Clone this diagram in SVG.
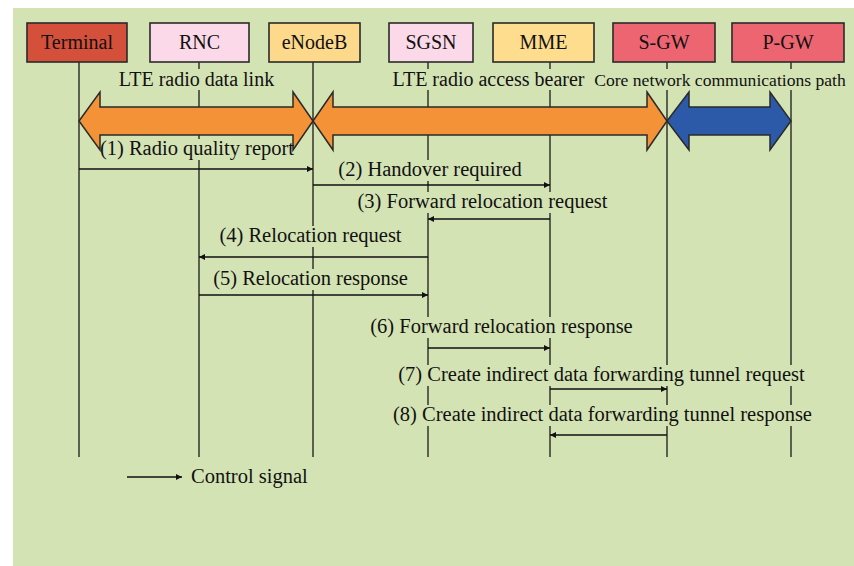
<svg xmlns="http://www.w3.org/2000/svg" width="854" height="566" viewBox="0 0 854 566">
<defs>
<style>
.t{font-family:"Liberation Serif","Times New Roman",serif;fill:#111;text-anchor:middle}
.box{stroke:#2a2a2a;stroke-width:1.6}
.lbl{font-size:20px}
.msg{font-size:20.5px}
.life{stroke:#1a1a1a;stroke-width:1.3;fill:none}
.bg{fill:#d4e3b4}
.sig{stroke:#111;stroke-width:1.6;fill:none;marker-end:url(#ah)}
.band{stroke:#2a2a2a;stroke-width:1.5;stroke-linejoin:miter}
</style>
<marker id="ah" viewBox="0 0 10 10" refX="10" refY="5" markerWidth="6" markerHeight="6" markerUnits="userSpaceOnUse" orient="auto">
<path d="M0,0 L10,5 L0,10 z" fill="#111"/>
</marker>
</defs>
<rect x="0" y="0" width="854" height="566" fill="#ffffff"/>
<rect x="13" y="8" width="841" height="558" fill="#d4e3b4"/>

<g id="lifelines">
<line class="life" x1="79" y1="62" x2="79" y2="457"/>
<line class="life" x1="199" y1="62" x2="199" y2="457"/>
<line class="life" x1="313" y1="62" x2="313" y2="457"/>
<line class="life" x1="428" y1="62" x2="428" y2="457"/>
<line class="life" x1="550" y1="62" x2="550" y2="457"/>
<line class="life" x1="667" y1="62" x2="667" y2="457"/>
<line class="life" x1="791" y1="62" x2="791" y2="457"/>
</g>

<g id="node-terminal">
<rect class="box" x="27" y="23" width="100" height="39" fill="#d4503a"/>
<text class="t lbl" x="77" y="49">Terminal</text>
</g>
<g id="node-rnc">
<rect class="box" x="150" y="23" width="99" height="39" fill="#fbd9e8"/>
<text class="t lbl" x="199.5" y="49">RNC</text>
</g>
<g id="node-enodeb">
<rect class="box" x="269" y="23" width="91" height="39" fill="#fdd98c"/>
<text class="t lbl" x="314.5" y="49">eNodeB</text>
</g>
<g id="node-sgsn">
<rect class="box" x="389" y="23" width="84" height="39" fill="#fbd9e8"/>
<text class="t lbl" x="431" y="49">SGSN</text>
</g>
<g id="node-mme">
<rect class="box" x="493" y="23" width="101" height="39" fill="#fedd8e"/>
<text class="t lbl" x="543.5" y="49">MME</text>
</g>
<g id="node-sgw">
<rect class="box" x="613" y="23" width="102" height="39" fill="#ee6572"/>
<text class="t lbl" x="664" y="49">S-GW</text>
</g>
<g id="node-pgw">
<rect class="box" x="732" y="23" width="112" height="39" fill="#ee6572"/>
<text class="t lbl" x="788" y="49">P-GW</text>
</g>

<g id="bearers">
<polygon class="band" fill="#f39237" points="79,121 100,92 100,107 293,107 293,92 313,121 293,150 293,135 100,135 100,150"/>
<polygon class="band" fill="#f39237" points="313,121 333,92 333,107 647,107 647,92 667,121 647,150 647,135 333,135 333,150"/>
<polygon class="band" fill="#2c5aa8" points="667,121 689,92 689,107 770,107 770,92 791,121 770,150 770,135 689,135 689,150"/>
<rect class="bg" x="118" y="69" width="157" height="21"/>
<text class="t lbl" x="196.5" y="86" font-size="19.5">LTE radio data link</text>
<rect class="bg" x="392" y="69" width="193" height="21"/>
<text class="t lbl" x="488.5" y="86" font-size="19.5">LTE radio access bearer</text>
<rect class="bg" x="593" y="69" width="254" height="21"/>
<text class="t" x="720" y="86" font-size="17.6">Core network communications path</text>
</g>

<g id="connectors">
<line class="sig" x1="79" y1="169" x2="313" y2="169"/>
<line class="sig" x1="313" y1="185" x2="550" y2="185"/>
<line class="sig" x1="550" y1="219" x2="428" y2="219"/>
<line class="sig" x1="428" y1="257" x2="199" y2="257"/>
<line class="sig" x1="199" y1="295" x2="428" y2="295"/>
<line class="sig" x1="428" y1="348" x2="550" y2="348"/>
<line class="sig" x1="550" y1="389" x2="667" y2="389"/>
<line class="sig" x1="667" y1="435" x2="550" y2="435"/>
<line class="sig" x1="127" y1="477" x2="182" y2="477"/>
</g>

<g id="labels">
<rect class="bg" x="102" y="139" width="190" height="21"/>
<text class="t msg" x="197" y="155">(1) Radio quality report</text>
<rect class="bg" x="341" y="160" width="178" height="21"/>
<text class="t msg" x="430" y="176">(2) Handover required</text>
<rect class="bg" x="361" y="192" width="243" height="21"/>
<text class="t msg" x="482.5" y="208">(3) Forward relocation request</text>
<rect class="bg" x="222" y="226" width="177" height="21"/>
<text class="t msg" x="310.5" y="242">(4) Relocation request</text>
<rect class="bg" x="216" y="269" width="189" height="21"/>
<text class="t msg" x="310.5" y="285">(5) Relocation response</text>
<rect class="bg" x="366" y="317" width="271" height="21"/>
<text class="t msg" x="501.5" y="333">(6) Forward relocation response</text>
<rect class="bg" x="393" y="365" width="417" height="21"/>
<text class="t msg" x="601.5" y="381">(7) Create indirect data forwarding tunnel request</text>
<rect class="bg" x="388" y="405" width="429" height="21"/>
<text class="t msg" x="602.5" y="421">(8) Create indirect data forwarding tunnel response</text>
<text class="t msg" x="191" y="483" style="text-anchor:start">Control signal</text>
</g>
</svg>
